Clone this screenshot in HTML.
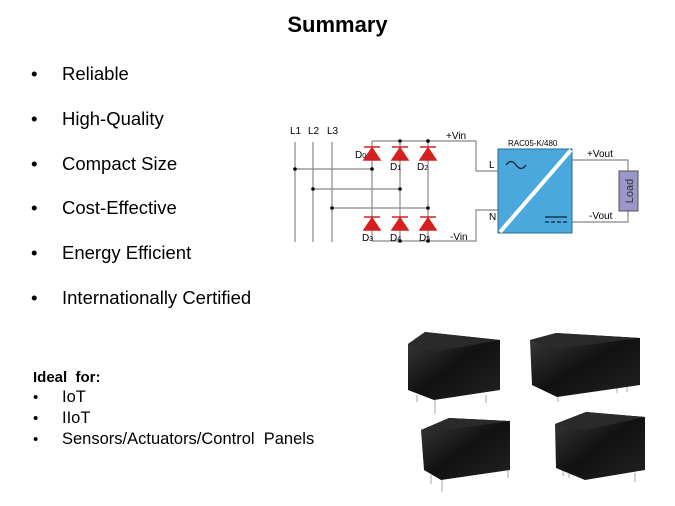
<!DOCTYPE html>
<html><head><style>
body{margin:0;width:675px;height:506px;background:#fff;font-family:"Liberation Sans",sans-serif;position:relative;overflow:hidden}
.t{position:absolute;white-space:nowrap;color:#000}
</style></head><body>
<div class="t" style="left:0;width:675px;text-align:center;top:12px;font-size:22px;font-weight:bold">Summary</div>
<div class="t" style="left:31px;top:52px;font-size:18.5px;line-height:44.8px">•<br>•<br>•<br>•<br>•<br>•</div>
<div class="t" style="left:62px;top:52px;font-size:18.5px;line-height:44.8px">Reliable<br>High-Quality<br>Compact Size<br>Cost-Effective<br>Energy Efficient<br>Internationally Certified</div>
<div class="t" style="left:33px;top:369px;font-size:15px;font-weight:bold">Ideal&nbsp; for:</div>
<div class="t" style="left:33px;top:387px;font-size:15px;line-height:21px">•<br>•<br>•</div>
<div class="t" style="left:62px;top:387px;font-size:16.5px;line-height:21px">IoT<br>IIoT<br>Sensors/Actuators/Control&nbsp; Panels</div>
<svg width="675" height="506" style="position:absolute;left:0;top:0" font-family="Liberation Sans, sans-serif">
<g stroke="#888" stroke-width="1.2" fill="none">
<line x1="295" y1="142" x2="295" y2="242"/><line x1="313" y1="142" x2="313" y2="242"/><line x1="332" y1="142" x2="332" y2="242"/>
<polyline points="372,141 476,141 476,171 498,171"/>
<polyline points="372,241 476,241 476,210 498,210"/>
<line x1="372" y1="141" x2="372" y2="241"/><line x1="400" y1="141" x2="400" y2="241"/><line x1="428" y1="141" x2="428" y2="241"/>
<line x1="295" y1="169" x2="372" y2="169"/><line x1="313" y1="189" x2="400" y2="189"/><line x1="332" y1="208" x2="428" y2="208"/>
<polyline points="572,160 628,160 628,171"/><polyline points="572,222 628,222 628,211"/>
</g>
<g fill="#000"><circle cx="295" cy="169" r="1.8"/><circle cx="313" cy="189" r="1.8"/><circle cx="332" cy="208" r="1.8"/>
<circle cx="372" cy="169" r="1.8"/><circle cx="400" cy="189" r="1.8"/><circle cx="428" cy="208" r="1.8"/>
<circle cx="400" cy="141" r="1.8"/><circle cx="428" cy="141" r="1.8"/><circle cx="400" cy="241" r="1.8"/><circle cx="428" cy="241" r="1.8"/></g>
<g fill="#d42020" stroke="#d42020">
<path d="M364 160 L380 160 L372 148Z M364 147 L380 147" stroke-width="1.5"/>
<path d="M392 160 L408 160 L400 148Z M392 147 L408 147" stroke-width="1.5"/>
<path d="M420 160 L436 160 L428 148Z M420 147 L436 147" stroke-width="1.5"/>
<path d="M364 230 L380 230 L372 218Z M364 217 L380 217" stroke-width="1.5"/>
<path d="M392 230 L408 230 L400 218Z M392 217 L408 217" stroke-width="1.5"/>
<path d="M420 230 L436 230 L428 218Z M420 217 L436 217" stroke-width="1.5"/>
</g>
<rect x="498" y="149" width="74" height="84" fill="#4aa8dc" stroke="#2a6a90"/>
<line x1="500" y1="232" x2="571" y2="150" stroke="#fff" stroke-width="4"/>
<path d="M506 165 q5 -7 10 0 q5 7 10 0" stroke="#123" stroke-width="1.3" fill="none"/>
<line x1="545" y1="217" x2="567" y2="217" stroke="#123" stroke-width="1.2"/>
<line x1="545" y1="222" x2="567" y2="222" stroke="#123" stroke-width="1.2" stroke-dasharray="4 2"/>
<rect x="619" y="171" width="19" height="40" fill="#9a98c8" stroke="#555"/>
<text transform="translate(633 191) rotate(-90)" text-anchor="middle" font-size="11" fill="#333">Load</text>
<g font-size="10" fill="#000">
<text x="290" y="134">L1</text><text x="308" y="134">L2</text><text x="327" y="134">L3</text>
<text x="446" y="139">+Vin</text><text x="450" y="240">-Vin</text>
<text x="355" y="158">D<tspan font-size="7">0</tspan></text><text x="390" y="170">D<tspan font-size="7">1</tspan></text><text x="417" y="170">D<tspan font-size="7">2</tspan></text>
<text x="362" y="241">D<tspan font-size="7">3</tspan></text><text x="390" y="241">D<tspan font-size="7">4</tspan></text><text x="419" y="241">D<tspan font-size="7">5</tspan></text>
<text x="489" y="168">L</text><text x="489" y="220">N</text>
<text x="587" y="157">+Vout</text><text x="589" y="219">-Vout</text>
<text x="508" y="146" font-size="8">RAC05-K/480</text>
</g>
<defs><linearGradient id="g" x1="0" y1="0" x2="1" y2="1"><stop offset="0" stop-color="#3a3a3a"/><stop offset="0.5" stop-color="#111"/><stop offset="1" stop-color="#222"/></linearGradient></defs>
<g stroke="#bbb" stroke-width="1.3">
<line x1="417" y1="395" x2="417" y2="402"/><line x1="435" y1="400" x2="435" y2="414"/><line x1="486" y1="395" x2="486" y2="403"/>
<line x1="558" y1="393" x2="558" y2="402"/><line x1="617" y1="385" x2="617" y2="393"/><line x1="627" y1="384" x2="627" y2="392"/>
<line x1="431" y1="475" x2="431" y2="484"/><line x1="442" y1="478" x2="442" y2="492"/><line x1="508" y1="470" x2="508" y2="478"/>
<line x1="563" y1="468" x2="563" y2="476"/><line x1="569" y1="470" x2="569" y2="478"/><line x1="635" y1="473" x2="635" y2="482"/>
</g>
<g fill="url(#g)">
<path d="M408 344 L425 332 L500 340 L500 390 L434 400 L408 390Z"/>
<path d="M530 340 L556 333 L640 338 L640 385 L557 397 L532 385Z"/>
<path d="M421 430 L449 418 L510 421 L510 470 L441 480 L424 470Z"/>
<path d="M555 424 L586 412 L645 417 L645 470 L585 480 L556 468Z"/>
</g>
<g fill="#2a2a2a"><path d="M408 344 L425 332 L500 340 L434 352Z"/><path d="M530 340 L556 333 L640 338 L557 349Z"/><path d="M421 430 L449 418 L510 421 L441 431Z"/><path d="M555 424 L586 412 L645 417 L585 430Z"/></g>
</svg>
</body></html>
